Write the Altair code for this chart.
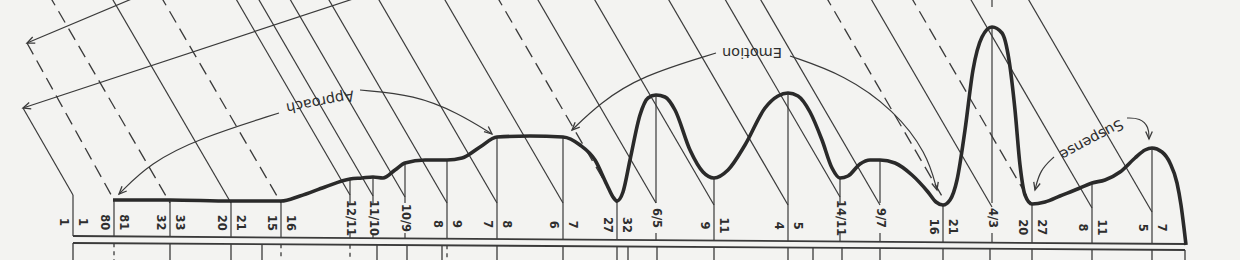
import altair as alt
import pandas as pd

# ---------------- data ----------------
# horizontal position, vertical position (measured downward, 0 = top)
curve_x = [113, 170, 231, 281, 300, 325, 350, 362, 373, 383, 395, 405, 425, 447, 462, 480, 497, 530, 563, 580,
           595, 607, 613, 617, 623, 630, 640, 648, 656, 665, 675, 690, 703, 714, 728, 745, 765, 778, 788, 798,
           810, 822, 832, 840, 848, 860, 870, 880, 895, 912, 928, 936, 943, 950, 957, 965, 973, 982, 992, 1002,
           1009, 1015, 1020, 1025, 1032, 1045, 1060, 1080, 1092, 1105, 1120, 1135, 1145, 1152, 1162, 1170, 1177,
           1181, 1184, 1186]
curve_y = [200, 200, 201, 201, 196, 187, 179, 178, 177, 178, 170, 163, 160, 160, 158, 147, 137, 136, 137, 145,
           160, 185, 197, 201, 192, 160, 115, 98, 95, 97, 110, 150, 172, 178, 170, 145, 108, 96, 93, 96,
           112, 140, 168, 178, 176, 164, 160, 160, 163, 175, 192, 202, 205, 200, 180, 130, 70, 37, 27, 33,
           60, 110, 165, 195, 204, 202, 196, 188, 183, 180, 172, 158, 150, 148, 152, 163, 183,
           205, 228, 245]

# shot markers along the base
tick_x = [73, 114, 170, 231, 281, 350, 373, 405, 447, 497, 563, 617, 656, 714, 788, 840, 880, 943, 992, 1032, 1092, 1152]
tick_lo = ["1", "80", "32", "20", "15", "", "", "", "8", "7", "6", "27", "", "9", "4", "", "", "16", "", "20", "8", "5"]
tick_hi = ["1", "81", "33", "21", "16", "", "", "", "9", "8", "7", "32", "", "11", "5", "", "", "21", "", "27", "11", "7"]
tick_single = ["", "", "", "", "", "12/11", "11/10", "10/9", "", "", "", "", "6/5", "", "", "14/11", "9/7", "", "4/3", "", "", ""]
diag_end_y = [195, 200, 203, 203, 203, 195, 196, 197, 203, 203, 203, 203, 203, 205, 205, 197, 205, 198, 207, 205, 208, 212]
diag_dashed = [False, True, True, False, True, False, False, False, False, False, False, True, False, False, False,
               False, False, True, False, True, False, False]

# ticks under the double base line
bottom_x = [73, 114, 170, 231, 262, 281, 350, 377, 407, 442, 447, 497, 563, 617, 628, 657, 714, 788, 813, 842, 880,
            943, 990, 1032, 1092, 1152, 1185]
bottom_dashed = [False, True, False, False, False, True, True, False, False, False, True, False, False, False, False,
                 False, False, False, False, False, False, False, False, False, False, False, False]

# annotation words (upside down in the original)
words = ["Approach", "Emotion", "Suspense"]
word_x = [320, 752, 1091]
word_y = [101, 52, 139]
word_angle = [169, 180, 152]

# annotation arcs (control points)
arc_id = ["a1"] * 4 + ["a2"] * 4 + ["e1"] * 4 + ["e2"] * 5 + ["s1"] * 3 + ["s2"] * 4
arc_x = [279, 200, 150, 119,
         360, 415, 458, 492,
         716, 641, 600, 572,
         790, 845, 894, 927, 937,
         1054, 1040, 1035,
         1127, 1140, 1149, 1149]
arc_y = [113, 138, 163, 194,
         90, 95, 113, 134,
         53, 76, 103, 130,
         56, 75, 110, 153, 190,
         157, 170, 190,
         118, 118, 127, 139]

# arrow heads: tip position and pointing direction (degrees, clockwise from east)
arrow_x = [27, 23, 119, 492, 572, 937, 1035, 1149]
arrow_y = [43, 108, 194, 134, 130, 190, 190, 139]
arrow_dir = [157, 162, 135, 40, 136, 75, 105, 90]

# left bracket lines
bracket_x = [27, 23]
bracket_y = [43, 108]
bracket_x2 = [134, 362]
bracket_y2 = [-2, -4]

# ---------------- styling ----------------
INK = "#3a3a3a"
CURVE = "#2a2a2a"
BG = "#f3f3f1"
SLOPE = 1.72
FONT = "DejaVu Sans"

xs = alt.Scale(domain=[0, 1240], range=[0, 1240])
ys = alt.Scale(domain=[260, 0])


def base_y(x, y0, y1):
    return y0 + (x - 73) * (y1 - y0) / (1185 - 73)


curve_lookup = dict(zip(curve_x, curve_y))

# diagonals
drows = []
for i, x in enumerate(tick_x):
    ye = diag_end_y[i]
    if i == 0:
        xs0, ys0 = bracket_x[1], bracket_y[1]
    elif i == 1:
        xs0, ys0 = bracket_x[0], bracket_y[0]
    else:
        ys0 = -6
        xs0 = x - (ye - ys0) / SLOPE
    drows.append(dict(x=xs0, y=ys0, x2=x, y2=ye, dashed=diag_dashed[i]))
diag = pd.DataFrame(drows)

# vertical drops from the curve
vrows = []
for i, x in enumerate(tick_x):
    top = curve_lookup.get(x, diag_end_y[i])
    if tick_single[i]:
        vrows.append(dict(x=x, y=top, y2=203))
        vrows.append(dict(x=x, y=233, y2=base_y(x, 236, 244)))
    else:
        vrows.append(dict(x=x, y=top, y2=base_y(x, 236, 244)))
vrows.append(dict(x=992, y=-2, y2=7))
vert = pd.DataFrame(vrows)

# base lines
base = pd.DataFrame([
    dict(x=73, y=236, x2=1185, y2=244),
    dict(x=73, y=243, x2=1185, y2=250),
])
brows = [dict(x=x, y=base_y(x, 243, 250), y2=262, dashed=d) for x, d in zip(bottom_x, bottom_dashed)]
bottom = pd.DataFrame(brows)

brackets = pd.DataFrame(dict(x=bracket_x, y=bracket_y, x2=bracket_x2, y2=bracket_y2))

curve = pd.DataFrame(dict(x=curve_x, y=curve_y))

lab_rows = []
for i, x in enumerate(tick_x):
    if tick_single[i]:
        lab_rows.append(dict(x=x, y=218, t=tick_single[i]))
    else:
        yy = base_y(x, 222, 228)
        lab_rows.append(dict(x=x - 10, y=yy, t=tick_lo[i]))
        lab_rows.append(dict(x=x + 8.5, y=yy, t=tick_hi[i]))
labels = pd.DataFrame(lab_rows)

wordsdf = pd.DataFrame(dict(x=word_x, y=word_y, t=words, a=word_angle))
arcs = pd.DataFrame(dict(g=arc_id, x=arc_x, y=arc_y, o=list(range(len(arc_x)))))
arrows = pd.DataFrame(dict(x=arrow_x, y=arrow_y, a=[d + 90 for d in arrow_dir]))

X = alt.X("x:Q", scale=xs, axis=None)
Y = alt.Y("y:Q", scale=ys, axis=None)

diag_solid = alt.Chart(diag).transform_filter("!datum.dashed").mark_rule(
    color=INK, strokeWidth=1.2, clip=True).encode(X, Y, x2="x2:Q", y2="y2:Q")
diag_dash = alt.Chart(diag).transform_filter("datum.dashed").mark_rule(
    color=INK, strokeWidth=1.3, strokeDash=[13, 7], clip=True).encode(X, Y, x2="x2:Q", y2="y2:Q")
bracket_l = alt.Chart(brackets).mark_rule(color=INK, strokeWidth=1.2, clip=True).encode(X, Y, x2="x2:Q", y2="y2:Q")
vert_l = alt.Chart(vert).mark_rule(color=INK, strokeWidth=1.2, clip=True).encode(X, Y, y2="y2:Q")
base_l = alt.Chart(base).mark_rule(color=INK, strokeWidth=1.8).encode(X, Y, x2="x2:Q", y2="y2:Q")
bottom_s = alt.Chart(bottom).transform_filter("!datum.dashed").mark_rule(
    color=INK, strokeWidth=1.3, clip=True).encode(X, Y, y2="y2:Q")
bottom_d = alt.Chart(bottom).transform_filter("datum.dashed").mark_rule(
    color=INK, strokeWidth=1.3, strokeDash=[4, 4], clip=True).encode(X, Y, y2="y2:Q")
arc_l = alt.Chart(arcs).mark_line(color=INK, strokeWidth=1.2, interpolate="basis").encode(
    X, Y, detail="g:N", order="o:Q")
curve_l = alt.Chart(curve).mark_line(color=CURVE, strokeWidth=3.6, interpolate="monotone").encode(X, Y)
arrow_m = alt.Chart(arrows).mark_point(
    shape="M-0.7,1.6L0,0L0.7,1.6", filled=False, color=INK, strokeWidth=1.3, size=90, opacity=1
).encode(X, Y, angle=alt.Angle("a:Q", scale=None))
label_t = alt.Chart(labels).mark_text(
    angle=90, font=FONT, fontSize=11.5, fontWeight="bold", color="#2e2e2e", align="center", baseline="middle"
).encode(X, Y, text="t:N")
word_t = alt.Chart(wordsdf).mark_text(
    font=FONT, fontSize=14.5, color="#2e2e2e", align="center", baseline="middle"
).encode(X, Y, text="t:N", angle=alt.Angle("a:Q", scale=None))

chart = alt.layer(
    diag_solid, diag_dash, bracket_l, vert_l, base_l, bottom_s, bottom_d, arc_l, curve_l, arrow_m, label_t, word_t
).properties(
    width=1240, height=260, padding=0, autosize=alt.AutoSizeParams(type="none"), background=BG
).configure_view(strokeWidth=0)

chart.save("out.html", embed_options={"renderer": "svg", "actions": False})
